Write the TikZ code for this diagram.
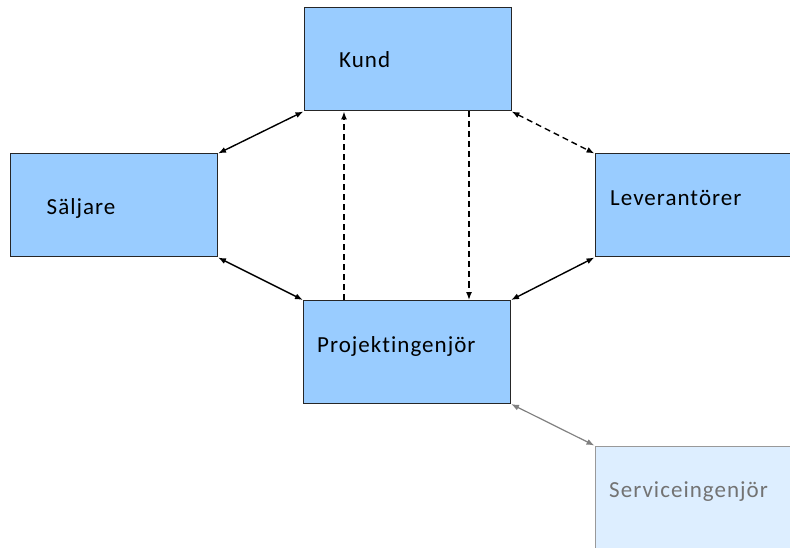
\documentclass[tikz,border=0pt]{standalone}
\usepackage{fontspec}
\setmainfont[Ligatures=NoCommon, LetterSpace=4.5]{Carlito}
\usetikzlibrary{arrows.meta}
\definecolor{boxblue}{HTML}{99CCFF}
\definecolor{paleblue}{HTML}{DDEEFF}
\tikzset{box/.style = {draw=black!85, fill=boxblue, line width=1pt,
    minimum width=207pt, minimum height=103pt, inner sep=0pt},
  pale/.style = {box, draw=black!40, fill=paleblue},
  lbl/.style = {anchor=base west, inner sep=0pt, font=\fontsize{23}{26}\selectfont},
  dashlink/.style = {dash pattern=on 6pt off 4pt},
  >={Latex[length=8pt,width=6pt]}}

\begin{document}
\begin{tikzpicture}[x=1pt, y=-1pt, line width=1.4pt]
        \useasboundingbox (0,0) rectangle (790,548);
        \clip (0,0) rectangle (790,548);
        % boxes
        \node[box] (kund) at (407.5,59.5) {};
        \node[box] (salj) at (114,205.5) {};
        \node[box] (lev) at (698.5,205.5) {};
        \node[box] (proj) at (407,352) {};
        \node[pale] (serv) at (698.5,497.5) {};
        % texts
        \node[lbl] (kundtxt) at (338.5,67.7) {Kund};
        \node[lbl] (saljtxt) at (46,215) {Säljare};
        \node[lbl] (levtxt) at (609.5,206) {Leverantörer};
        \node[lbl] (projtxt) at (316.5,352.7) {Projektingenjör};
        \node[lbl, text=black!55] (servtxt) at (608.5,497) {Serviceingenjör};
        % links
        \draw[<->] (salj.north east) -- (kund.south west);
        \draw[<->] (salj.south east) -- (proj.north west);
        \draw[<->] (lev.south west) -- (proj.north east);
        \draw[<->, dashlink] (kund.south east) -- (lev.north west);
        \coordinate (upline) at (344,0);
        \coordinate (downline) at (469,0);
        \draw[->, dashlink] (proj.north -| upline) -- (kund.south -| upline);
        \draw[->, dashlink] (kund.south -| downline) -- (proj.north -| downline);
        \draw[<->, black!50, line width=1.2pt] (proj.south east) -- (serv.north west);
\end{tikzpicture}
\end{document}
